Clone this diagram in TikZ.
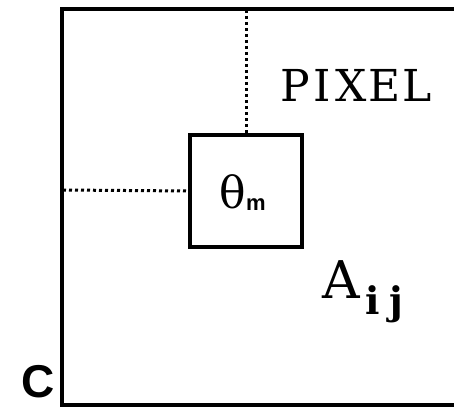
\documentclass[tikz,border=0pt]{standalone}
\usepackage{fontspec}
\setmainfont{DejaVu Serif}
\setsansfont{Liberation Sans}
\begin{document}
\begin{tikzpicture}[x=1pt,y=-1pt,
  frame/.style={line width=3.4pt},
  dotline/.style={line width=3pt,dash pattern=on 3pt off 3pt},
  lbl/.style={inner sep=0pt,anchor=base west}]
\useasboundingbox (0,0) rectangle (454,409);
% outer pixel frame (open at the right)
\coordinate (tr) at (456,9);
\coordinate (tl) at (62,9);
\coordinate (bl) at (62,405);
\coordinate (br) at (456,405);
\draw[frame] (tr) -- (tl) -- (bl) -- (br);
% inner box
\node[draw,frame,minimum width=112pt,minimum height=112pt,inner sep=0pt] (box) at (246,191) {};
\node[lbl] (theta) at (219,208) {\fontsize{44}{44}\selectfont θ};
\node[lbl] (m) at (246,210) {\sffamily\bfseries\fontsize{22}{22}\selectfont m};
% dotted guide lines
\coordinate (topv) at (246,10);
\coordinate (lefth) at (63,190);
\draw[dotline] (topv) -- (box.north);
\draw[dotline] (lefth) -- (box.west);
% labels
\node[lbl] (pixel) at (280,102) {\fontsize{44}{44}\selectfont P\hspace{4pt}I\hspace{4pt}X\hspace{2pt}E\hspace{2pt}L};
\node[lbl] (A) at (322,298) {\fontsize{52}{52}\selectfont A\raisebox{-16pt}{\bfseries\fontsize{38}{38}\selectfont\hspace{6pt}i\hspace{9pt}j}};
\node[lbl] (C) at (21,397) {\sffamily\bfseries\fontsize{46}{46}\selectfont C};
\end{tikzpicture}
\end{document}
